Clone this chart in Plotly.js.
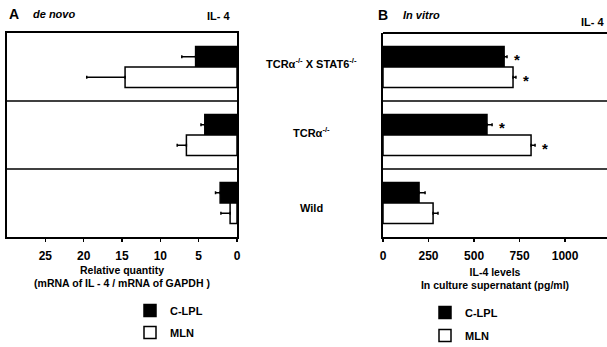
<!DOCTYPE html>
<html><head><meta charset="utf-8">
<script src="https://cdn.plot.ly/plotly-3.0.1.min.js"></script>
<style>html,body{margin:0;padding:0;background:#fff}</style>
</head><body><div id="chart" style="width:607px;height:347px"></div>
<script>
// ---- data ----
const groups = ['TCRα<sup>-/-</sup> X STAT6<sup>-/-</sup>', 'TCRα<sup>-/-</sup>', 'Wild'];
const seriesNames = ['C-LPL', 'MLN'];
const deNovoCLPL = [5.4, 4.2, 2.2];
const deNovoCLPLErr = [1.8, 0.5, 0.6];
const deNovoMLN = [14.6, 6.6, 0.9];
const deNovoMLNErr = [5.0, 1.2, 1.2];
const inVitroCLPL = [665, 571, 198];
const inVitroCLPLErr = [16, 28, 33];
const inVitroMLN = [714, 813, 275];
const inVitroMLNErr = [16, 22, 27];
const inVitroCLPLSig = [true, true, false];
const inVitroMLNSig = [true, true, false];
const leftTicks = [0, 5, 10, 15, 20, 25];
const rightTicks = [0, 250, 500, 750, 1000];

const FONT = 'Liberation Sans, Arial, sans-serif';
const bold = (s) => ({family: FONT, size: s, color: '#000', weight: 'bold'});
const idx = groups.map((g, i) => i);
const labelShift = [4, 3, -5];

function barTrace(name, x, err, xa, ya, fill, legend, grp) {
  return {
    type: 'bar', orientation: 'h', name: name, x: x, y: idx,
    xaxis: xa, yaxis: ya, legend: legend, showlegend: true, legendgroup: grp,
    marker: {color: fill, line: {color: '#000', width: 1.5}},
    error_x: {type: 'data', array: err, arrayminus: err.map(() => 0), symmetric: false,
              color: '#000', thickness: 1.5, width: 1.5},
    hoverinfo: 'skip'
  };
}

const data = [
  barTrace(seriesNames[0], deNovoCLPL, deNovoCLPLErr, 'x', 'y', '#000', 'legend', 'a1'),
  barTrace(seriesNames[1], deNovoMLN, deNovoMLNErr, 'x', 'y', '#fff', 'legend', 'a2'),
  barTrace(seriesNames[0], inVitroCLPL, inVitroCLPLErr, 'x2', 'y2', '#000', 'legend2', 'b1'),
  barTrace(seriesNames[1], inVitroMLN, inVitroMLNErr, 'x2', 'y2', '#fff', 'legend2', 'b2')
];

const annotations = [];
const txt = (text, x, y, font, xanchor) => annotations.push({text, x, y, xref: 'paper', yref: 'paper',
  xanchor: xanchor || 'left', yanchor: 'middle', showarrow: false, font});
const py = (p) => (237 - p) / 204;
const px = (p) => p / 607;
txt('A', px(7), py(14), bold(14));
txt('<i>de novo</i>', px(31), py(14), bold(11));
txt('IL- 4', px(232), py(16), bold(11), 'right');
txt('B', px(376), py(15), bold(14));
txt('<i>In vitro</i>', px(401), py(15), bold(11));
txt('IL- 4', px(606), py(22), bold(11), 'right');

groups.forEach((g, i) => annotations.push({text: g, x: px(311), xref: 'paper', y: i, yref: 'y2',
  yshift: labelShift[i], showarrow: false, font: bold(11), xanchor: 'center', yanchor: 'middle'}));

const off = 0.15;
inVitroCLPL.forEach((v, i) => { if (inVitroCLPLSig[i]) annotations.push({text: '*', x: v + inVitroCLPLErr[i],
  xref: 'x2', y: i - off, yref: 'y2', xanchor: 'left', xshift: 5, yshift: -3, showarrow: false, font: bold(15)}); });
inVitroMLN.forEach((v, i) => { if (inVitroMLNSig[i]) annotations.push({text: '*', x: v + inVitroMLNErr[i],
  xref: 'x2', y: i + off, yref: 'y2', xanchor: 'left', xshift: 5, yshift: -3, showarrow: false, font: bold(15)}); });

const shapes = [];
[0.5, 1.5].forEach(s => {
  shapes.push({type: 'line', xref: 'x domain', yref: 'y', x0: 0, x1: 1, y0: s, y1: s, line: {color: '#000', width: 1.5}});
  shapes.push({type: 'line', xref: 'x2 domain', yref: 'y2', x0: 0, x1: 1, y0: s, y1: s, line: {color: '#000', width: 1.5}});
});
shapes.push({type: 'line', xref: 'x2 domain', yref: 'y2 domain', x0: 0, x1: 1, y0: 1, y1: 1, line: {color: '#000', width: 2}});

const axBase = {showgrid: false, zeroline: false, showline: true, linecolor: '#000', linewidth: 2,
  ticks: 'outside', ticklen: 3, tickwidth: 1.5, tickcolor: '#000', tickfont: bold(12), ticklabelstandoff: 4};

const layout = {
  width: 607, height: 347, margin: {l: 0, r: 0, t: 33, b: 110, autoexpand: false},
  paper_bgcolor: '#fff', plot_bgcolor: '#fff',
  barmode: 'group', bargap: 0.4, bargroupgap: 0,
  font: {family: FONT, color: '#000'},
  xaxis: Object.assign({}, axBase, {domain: [px(7), px(237)], range: [30, 0], tickvals: leftTicks,
    mirror: true, anchor: 'y', automargin: false,
    title: {text: 'Relative quantity<br>(mRNA of IL - 4 / mRNA of GAPDH )', font: bold(10.5), standoff: 4}}),
  yaxis: {domain: [0, 1], range: [2.5, -0.5], showticklabels: false, ticks: '', showgrid: false, zeroline: false,
    showline: true, mirror: true, linecolor: '#000', linewidth: 2, anchor: 'x'},
  xaxis2: Object.assign({}, axBase, {domain: [px(383), 1], range: [0, 1230], tickvals: rightTicks,
    anchor: 'y2', automargin: false,
    title: {text: 'IL-4 levels<br>In culture supernatant (pg/ml)', font: bold(10.5), standoff: 6}}),
  yaxis2: {domain: [0, 1], range: [2.5, -0.5], showticklabels: false, ticks: '', showgrid: false, zeroline: false,
    showline: true, linecolor: '#000', linewidth: 2, anchor: 'x2'},
  legend: {x: px(130), y: py(296), xanchor: 'left', yanchor: 'top', font: bold(11), bgcolor: 'rgba(0,0,0,0)',
    traceorder: 'grouped', tracegroupgap: 3, itemclick: false},
  legend2: {x: px(425), y: py(298), xanchor: 'left', yanchor: 'top', font: bold(11), bgcolor: 'rgba(0,0,0,0)',
    traceorder: 'grouped', tracegroupgap: 4, itemclick: false},
  annotations: annotations, shapes: shapes
};

Plotly.newPlot('chart', data, layout, {displayModeBar: false, staticPlot: true});
</script></body></html>
